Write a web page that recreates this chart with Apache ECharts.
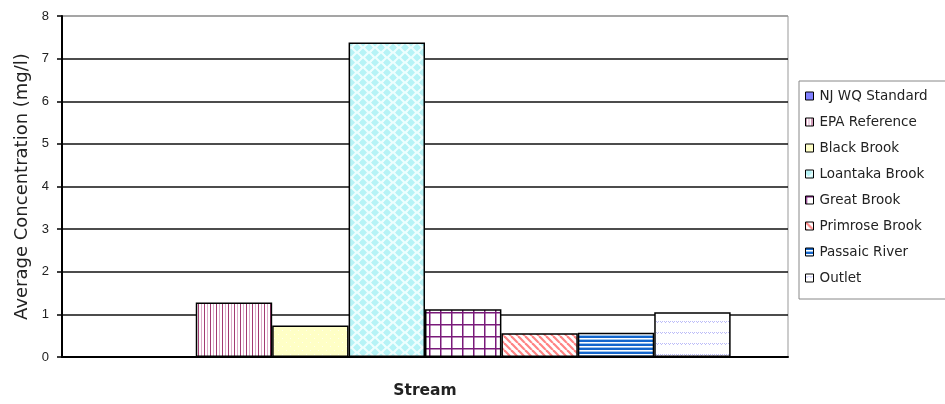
<!DOCTYPE html>
<html>
<head>
<meta charset="utf-8">
<script src="https://cdn.jsdelivr.net/npm/echarts@6/dist/echarts.min.js"></script>
<style>
html,body{margin:0;padding:0;background:#fff;}
#chart{width:945px;height:404px;}
</style>
</head>
<body>
<div id="chart"></div>
<script>
// ---- data ----
const seriesNames = ['NJ WQ Standard','EPA Reference','Black Brook','Loantaka Brook','Great Brook','Primrose Brook','Passaic River','Outlet'];
const values = [0, 1.28, 0.74, 7.38, 1.12, 0.56, 0.57, 1.05];
const yTicks = [0, 1, 2, 3, 4, 5, 6, 7, 8];
const xCategories = [''];
const yTitle = 'Average Concentration (mg/l)';
const xTitle = 'Stream';

// ---- patterns ----
function pat(w, h, draw) {
  const c = document.createElement('canvas');
  c.width = w; c.height = h;
  const g = c.getContext('2d');
  draw(g, w, h);
  return { image: c, repeat: 'repeat' };
}
const fills = [
  '#8080ff',
  pat(6, 1, (g) => { g.fillStyle = '#fff'; g.fillRect(0,0,6,1); g.fillStyle = '#a23a72'; g.fillRect(0,0,1,1); g.fillStyle = '#dcaac8'; g.fillRect(3,0,1,1); }),
  pat(8, 8, (g) => { g.fillStyle = '#ffffc6'; g.fillRect(0,0,8,8); g.fillStyle = '#ffffee'; g.fillRect(2,2,1,1); g.fillRect(6,6,1,1); }),
  pat(12, 10, (g) => {
    g.fillStyle = '#eefefe'; g.fillRect(0,0,12,10);
    g.fillStyle = '#b6f3f6';
    const blob = (x, y) => { g.beginPath(); g.moveTo(x, y-4); g.lineTo(x+4, y); g.lineTo(x, y+4); g.lineTo(x-4, y); g.closePath(); g.fill(); };
    blob(3,2.5); blob(9,7.5); blob(15,2.5); blob(-3,7.5); blob(3,12.5); blob(9,-2.5);
  }),
  pat(11, 12, (g) => { g.fillStyle = '#fff'; g.fillRect(0,0,11,12); g.fillStyle = '#7a1a7a'; g.fillRect(0,0,1.5,12); g.fillRect(0,0,11,1.5); }),
  pat(7, 7, (g) => {
    g.fillStyle = '#fff'; g.fillRect(0,0,7,7);
    g.strokeStyle = '#ff8484'; g.lineWidth = 2.2;
    for (const x of [-7, 0, 7]) { g.beginPath(); g.moveTo(x, 0); g.lineTo(x+7, 7); g.stroke(); }
  }),
  pat(1, 4, (g) => { g.fillStyle = '#1466cc'; g.fillRect(0,0,1,2); g.fillStyle = '#ffffff'; g.fillRect(0,2,1,1); g.fillStyle = '#9cc4ee'; g.fillRect(0,3,1,1); }),
  pat(4, 11, (g) => { g.fillStyle = '#fff'; g.fillRect(0,0,4,11); g.fillStyle = '#bcbcf8'; g.fillRect(0,2,1,1); g.fillRect(1,3,1,1); g.fillRect(2,2,1,1); }),
];

// ---- chart ----
const chart = echarts.init(document.getElementById('chart'), null, { renderer: 'canvas' });
const lineColors = yTicks.map((t, i) => i === yTicks.length - 1 ? '#999' : '#111');

const series = seriesNames.map((name, i) => ({
  name: name,
  type: 'bar',
  data: [values[i]],
  barGap: '0%',
  barCategoryGap: '15.8%',
  itemStyle: { color: fills[i], borderColor: '#000', borderWidth: 1.5 },
  animation: false
}));

chart.setOption({
  backgroundColor: '#fff',
  animation: false,
  grid: { left: 62, right: 157, top: 16, bottom: 45, show: true, borderColor: '#999', borderWidth: 1, backgroundColor: '#fff' },
  legend: {
    orient: 'vertical',
    left: 799, top: 81,
    padding: [8, 40, 14, 6],
    itemGap: 12,
    itemWidth: 8, itemHeight: 8,
    icon: 'rect',
    borderColor: '#888', borderWidth: 1,
    backgroundColor: '#fff',
    itemStyle: { borderColor: '#000', borderWidth: 1 },
    textStyle: { fontFamily: 'DejaVu Sans', fontSize: 13.5, color: '#222', lineHeight: 14, padding: [0,0,0,1] },
    data: seriesNames
  },
  xAxis: {
    type: 'category',
    data: xCategories,
    name: xTitle,
    nameLocation: 'middle',
    nameGap: 26,
    nameTextStyle: { fontFamily: 'DejaVu Sans', fontWeight: 'bold', fontSize: 15.5, color: '#222' },
    axisLine: { lineStyle: { color: '#000', width: 2 } },
    axisTick: { show: false },
    axisLabel: { show: false }
  },
  yAxis: {
    type: 'value',
    min: yTicks[0], max: yTicks[yTicks.length - 1], interval: 1,
    name: yTitle,
    nameLocation: 'middle',
    nameGap: 30,
    nameTextStyle: { fontFamily: 'DejaVu Sans', fontSize: 18, color: '#222' },
    axisLine: { show: true, lineStyle: { color: '#000', width: 2 } },
    axisTick: { show: true, length: 5, lineStyle: { color: '#000', width: 1.5 } },
    axisLabel: { fontFamily: 'Liberation Sans', fontSize: 13, color: '#222', margin: 13 },
    splitLine: { show: true, lineStyle: { color: lineColors, width: 1.5 } }
  },
  series: series
});
</script>
</body>
</html>
